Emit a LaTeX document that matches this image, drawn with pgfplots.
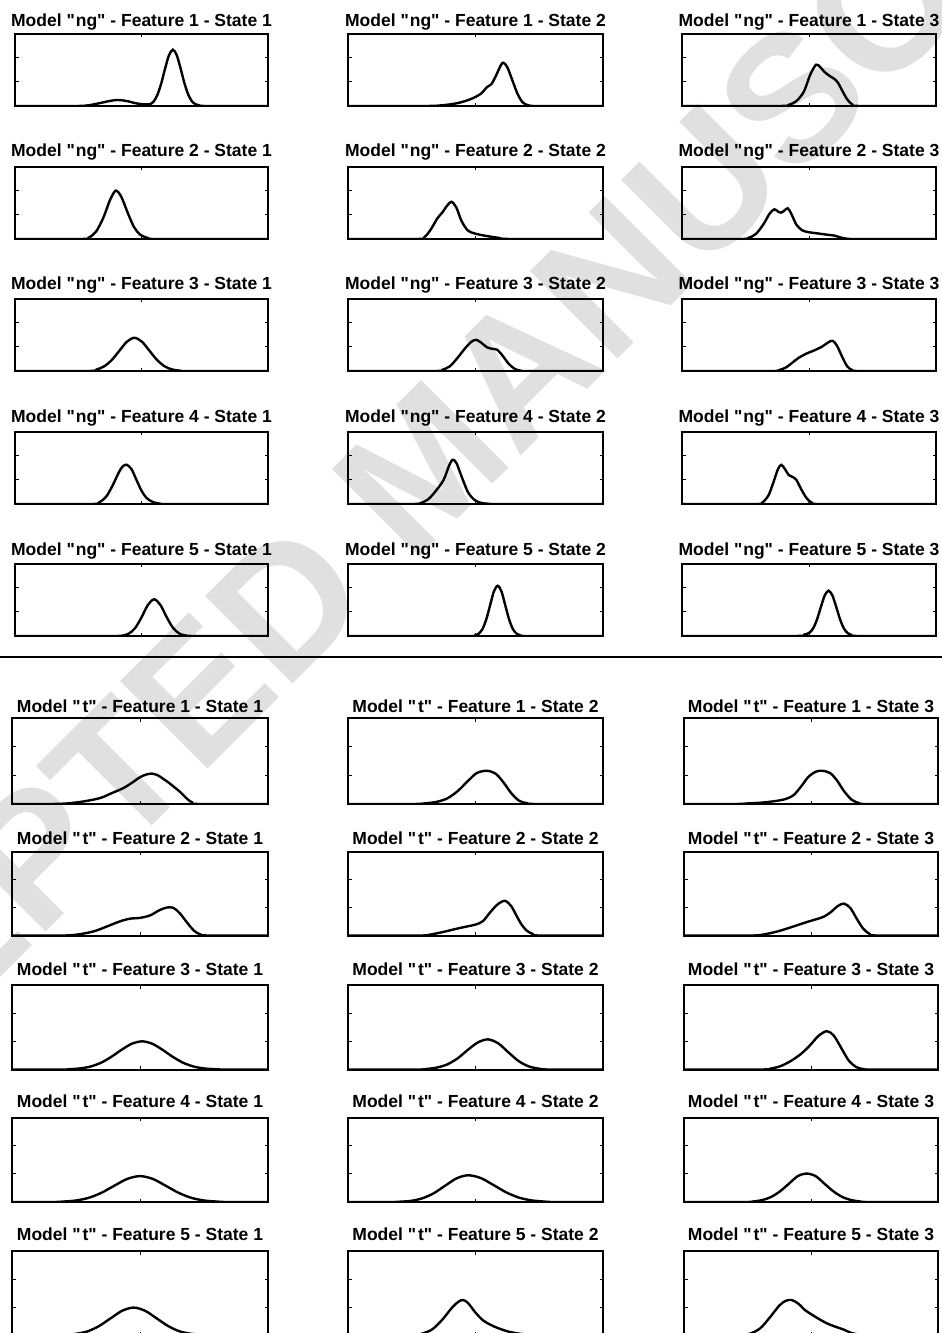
\documentclass[border=0pt]{standalone}
\usepackage{fontspec}
\setmainfont{Liberation Sans}[Ligatures=TeXOff]
\usepackage{pgfplots}
\pgfplotsset{compat=1.18}
\pgfplotsset{panel/.style={
  scale only axis, anchor=north west,
  xmin=0, xmax=10, ymin=0, ymax=3,
  xtick={5}, ytick={1,2},
  xticklabels={}, yticklabels={},
  tick align=inside, major tick length=3.5pt,
  tick style={line width=0.8pt, black},
  axis line style={line width=2pt},
}}
\newcommand{\q}{\symbol{"22}}
\newcommand{\panel}[7]{%
  \begin{axis}[panel, at={(#1pt,-#2pt)}, width=#3pt, height=#4pt]
    \addplot[black, line width=2.4pt, smooth, mark=none] coordinates {#7};
  \end{axis}
  \node[anchor=base, inner sep=0pt, font=\fontsize{17.5}{20}\selectfont\bfseries] at ({#1pt+#3pt/2},-#5pt) {#6};
}
\begin{document}
\begin{tikzpicture}
\path[use as bounding box] (0pt,0pt) rectangle (942pt,-1333pt);
% watermark
\node[rotate=45, anchor=west, inner sep=0pt, text=black!12, font=\fontsize{180}{180}\selectfont\bfseries] at (368pt,-522pt) {MANUSCRIPT};
\node[rotate=45, anchor=east, inner sep=0pt, text=black!12, font=\fontsize{180}{180}\selectfont\bfseries] at (333pt,-557pt) {ACCEPTED};
% separator
\draw[line width=2pt] (0pt,-656.7pt) -- (942pt,-656.7pt);
% ---------------- Model ng ----------------
\panel{15}{33.5}{253}{72.5}{26}{Model \q\kern1pt ng\q{} - Feature 1 - State 1}{(0,0)(2.4,0)(2.9,0.03)(3.4,0.13)(3.75,0.21)(4.07,0.25)(4.4,0.21)(4.75,0.12)(5.05,0.07)(5.34,0.08)(5.49,0.2)(5.64,0.49)(5.79,0.97)(5.94,1.58)(6.09,2.11)(6.24,2.33)(6.39,2.11)(6.54,1.58)(6.69,0.97)(6.84,0.49)(6.99,0.2)(7.14,0.07)(7.3,0.02)(7.6,0)(10,0)}
\panel{348}{33.5}{255}{72.5}{26}{Model \q\kern1pt ng\q{} - Feature 1 - State 2}{(0,0)(3.0,0)(3.7,0.03)(4.3,0.12)(4.8,0.28)(5.2,0.5)(5.45,0.78)(5.62,0.9)(5.8,1.25)(6.0,1.7)(6.1,1.79)(6.25,1.6)(6.45,1.05)(6.65,0.5)(6.85,0.15)(7.1,0.02)(7.5,0)(10,0)}
\panel{682}{33.5}{254}{72.5}{26}{Model \q\kern1pt ng\q{} - Feature 1 - State 3}{(0,0)(3.8,0)(4.2,0.05)(4.5,0.2)(4.8,0.6)(5.05,1.3)(5.28,1.71)(5.45,1.6)(5.6,1.42)(5.8,1.25)(6.0,1.12)(6.15,0.95)(6.3,0.65)(6.5,0.28)(6.7,0.07)(7.0,0)(10,0)}
\panel{15}{166.5}{253}{72.5}{156}{Model \q\kern1pt ng\q{} - Feature 2 - State 1}{(0,0)(2.6,0)(2.9,0.05)(3.2,0.3)(3.5,0.9)(3.75,1.6)(3.98,2.0)(4.2,1.75)(4.45,1.1)(4.7,0.5)(4.95,0.18)(5.25,0.04)(5.6,0)(10,0)}
\panel{348}{166.5}{255}{72.5}{156}{Model \q\kern1pt ng\q{} - Feature 2 - State 2}{(0,0)(2.7,0)(3.0,0.08)(3.25,0.4)(3.5,0.85)(3.7,1.1)(3.9,1.4)(4.06,1.54)(4.25,1.3)(4.45,0.75)(4.7,0.35)(5.0,0.22)(5.4,0.13)(5.9,0.05)(6.4,0)(10,0)}
\panel{682}{166.5}{254}{72.5}{156}{Model \q\kern1pt ng\q{} - Feature 2 - State 3}{(0,0)(2.3,0)(2.6,0.04)(2.9,0.2)(3.2,0.6)(3.45,1.05)(3.64,1.23)(3.8,1.12)(3.9,1.09)(4.0,1.15)(4.16,1.27)(4.3,1.05)(4.5,0.6)(4.73,0.36)(5.0,0.28)(5.35,0.23)(5.7,0.18)(6.0,0.14)(6.25,0.06)(6.5,0.01)(7,0)(10,0)}
\panel{15}{298.5}{253}{72.5}{289}{Model \q\kern1pt ng\q{} - Feature 3 - State 1}{(0,0)(2.9,0)(3.22,0.06)(3.52,0.19)(3.82,0.45)(4.12,0.83)(4.42,1.21)(4.72,1.375)(5.02,1.21)(5.32,0.83)(5.62,0.45)(5.92,0.19)(6.22,0.06)(6.52,0.015)(6.8,0)(10,0)}
\panel{348}{298.5}{255}{72.5}{289}{Model \q\kern1pt ng\q{} - Feature 3 - State 2}{(0,0)(3.4,0)(3.7,0.05)(4.0,0.2)(4.3,0.55)(4.6,0.95)(4.85,1.22)(5.04,1.29)(5.25,1.15)(5.45,0.98)(5.65,0.92)(5.85,0.88)(6.05,0.65)(6.3,0.3)(6.55,0.08)(6.8,0.01)(7.1,0)(10,0)}
\panel{682}{298.5}{254}{72.5}{289}{Model \q\kern1pt ng\q{} - Feature 3 - State 3}{(0,0)(3.5,0)(3.8,0.03)(4.1,0.15)(4.35,0.35)(4.6,0.55)(4.9,0.72)(5.2,0.85)(5.5,1.0)(5.75,1.18)(5.93,1.25)(6.1,1.05)(6.3,0.6)(6.5,0.2)(6.7,0.04)(7.0,0)(10,0)}
\panel{15}{431.5}{253}{72.5}{422}{Model \q\kern1pt ng\q{} - Feature 4 - State 1}{(0,0)(3.0,0)(3.3,0.05)(3.6,0.3)(3.85,0.75)(4.1,1.3)(4.25,1.55)(4.41,1.625)(4.6,1.45)(4.8,1.0)(5.0,0.55)(5.2,0.25)(5.45,0.08)(5.7,0.02)(6.0,0)(10,0)}
\panel{348}{431.5}{255}{72.5}{422}{Model \q\kern1pt ng\q{} - Feature 4 - State 2}{(0,0)(2.5,0)(2.85,0.04)(3.15,0.2)(3.45,0.55)(3.75,1.0)(3.95,1.55)(4.1,1.83)(4.25,1.7)(4.45,1.15)(4.7,0.5)(4.95,0.18)(5.2,0.05)(5.5,0.01)(5.8,0)(10,0)}
\panel{682}{431.5}{254}{72.5}{422}{Model \q\kern1pt ng\q{} - Feature 4 - State 3}{(0,0)(2.9,0)(3.15,0.05)(3.4,0.35)(3.6,0.9)(3.78,1.45)(3.91,1.62)(4.05,1.45)(4.2,1.2)(4.35,1.12)(4.5,1.0)(4.7,0.6)(4.9,0.25)(5.1,0.06)(5.4,0)(10,0)}
\panel{15}{563.5}{253}{72.5}{555}{Model \q\kern1pt ng\q{} - Feature 5 - State 1}{(0,0)(3.8,0)(4.25,0.02)(4.5,0.10)(4.75,0.33)(5.0,0.77)(5.25,1.28)(5.5,1.52)(5.75,1.28)(6.0,0.77)(6.25,0.33)(6.5,0.10)(6.75,0.02)(7.2,0)(10,0)}
\panel{348}{563.5}{255}{72.5}{555}{Model \q\kern1pt ng\q{} - Feature 5 - State 2}{(0,0)(4.6,0)(4.97,0.02)(5.12,0.09)(5.27,0.28)(5.42,0.68)(5.57,1.26)(5.72,1.84)(5.87,2.08)(6.02,1.84)(6.17,1.26)(6.32,0.68)(6.47,0.28)(6.62,0.09)(6.77,0.02)(7.1,0)(10,0)}
\panel{682}{563.5}{254}{72.5}{555}{Model \q\kern1pt ng\q{} - Feature 5 - State 3}{(0,0)(4.4,0)(4.8,0.05)(5.02,0.14)(5.17,0.33)(5.32,0.70)(5.47,1.21)(5.62,1.68)(5.77,1.875)(5.92,1.68)(6.07,1.21)(6.22,0.70)(6.37,0.32)(6.52,0.12)(6.67,0.04)(7.0,0)(10,0)}
% ---------------- Model t ----------------
\panel{12}{718}{256}{86}{712.5}{Model \q\kern2pt t\q{} - Feature 1 - State 1}{(0,0)(1.5,0)(2.15,0.02)(2.8,0.09)(3.45,0.21)(3.9,0.38)(4.36,0.56)(4.7,0.75)(5.01,0.94)(5.25,1.03)(5.47,1.06)(5.7,1.0)(5.92,0.87)(6.1,0.76)(6.31,0.61)(6.57,0.42)(6.84,0.18)(7.03,0.06)(7.3,0)(10,0)}
\panel{348}{718}{255}{86}{712.5}{Model \q\kern2pt t\q{} - Feature 1 - State 2}{(0,0)(2.5,0)(3.0,0.02)(3.5,0.08)(3.9,0.2)(4.3,0.45)(4.7,0.8)(5.05,1.08)(5.45,1.16)(5.8,1.05)(6.1,0.75)(6.4,0.38)(6.7,0.12)(7.0,0.03)(7.4,0)(10,0)}
\panel{684}{718}{254}{86}{712.5}{Model \q\kern2pt t\q{} - Feature 1 - State 3}{(0,0)(2.0,0)(2.5,0.02)(3.2,0.06)(3.9,0.15)(4.3,0.3)(4.6,0.6)(4.9,0.95)(5.2,1.13)(5.45,1.16)(5.75,1.08)(6.0,0.85)(6.3,0.45)(6.6,0.15)(6.9,0.03)(7.2,0)(10,0)}
\panel{12}{851.5}{256}{84}{844}{Model \q\kern2pt t\q{} - Feature 2 - State 1}{(0,0)(2.0,0)(2.6,0.04)(3.2,0.15)(3.7,0.32)(4.2,0.5)(4.6,0.6)(5.0,0.63)(5.4,0.72)(5.75,0.9)(6.05,1.0)(6.3,0.99)(6.55,0.8)(6.85,0.45)(7.1,0.18)(7.35,0.04)(7.7,0)(10,0)}
\panel{348}{851.5}{255}{84}{844}{Model \q\kern2pt t\q{} - Feature 2 - State 2}{(0,0)(2.8,0)(3.2,0.03)(3.7,0.12)(4.25,0.24)(4.7,0.33)(5.04,0.4)(5.3,0.52)(5.55,0.8)(5.85,1.1)(6.15,1.24)(6.4,1.05)(6.6,0.72)(6.8,0.4)(7.0,0.18)(7.25,0.05)(7.5,0)(10,0)}
\panel{684}{851.5}{254}{84}{844}{Model \q\kern2pt t\q{} - Feature 2 - State 3}{(0,0)(2.6,0)(3.1,0.03)(3.7,0.15)(4.3,0.32)(4.8,0.47)(5.2,0.58)(5.5,0.67)(5.8,0.85)(6.05,1.05)(6.3,1.14)(6.55,0.98)(6.8,0.6)(7.05,0.25)(7.3,0.06)(7.6,0)(10,0)}
\panel{12}{985}{256}{84.5}{975}{Model \q\kern2pt t\q{} - Feature 3 - State 1}{(0,0)(2.0,0)(2.28,0.013)(2.68,0.041)(3.08,0.109)(3.48,0.242)(3.88,0.45)(4.28,0.70)(4.68,0.915)(5.08,1.0)(5.48,0.915)(5.88,0.70)(6.28,0.45)(6.68,0.242)(7.08,0.109)(7.48,0.041)(7.88,0.013)(8.3,0)(10,0)}
\panel{348}{985}{255}{84.5}{975}{Model \q\kern2pt t\q{} - Feature 3 - State 2}{(0,0)(2.7,0)(3.09,0.02)(3.49,0.07)(3.89,0.18)(4.29,0.39)(4.69,0.69)(5.09,0.96)(5.49,1.07)(5.89,0.93)(6.29,0.61)(6.69,0.30)(7.09,0.11)(7.49,0.03)(7.9,0)(10,0)}
\panel{684}{985}{254}{84.5}{975}{Model \q\kern2pt t\q{} - Feature 3 - State 3}{(0,0)(3.0,0)(3.4,0.03)(3.8,0.12)(4.2,0.3)(4.6,0.55)(4.95,0.85)(5.3,1.2)(5.63,1.36)(5.9,1.2)(6.2,0.75)(6.5,0.3)(6.8,0.08)(7.1,0.01)(7.5,0)(10,0)}
\panel{12}{1117.5}{256}{84.5}{1107}{Model \q\kern2pt t\q{} - Feature 4 - State 1}{(0,0)(1.6,0)(2.0,0.016)(2.5,0.054)(3.0,0.15)(3.5,0.33)(4.0,0.58)(4.5,0.82)(5.0,0.92)(5.5,0.82)(6.0,0.58)(6.5,0.33)(7.0,0.15)(7.5,0.054)(8.0,0.016)(8.4,0)(10,0)}
\panel{348}{1117.5}{255}{84.5}{1107}{Model \q\kern2pt t\q{} - Feature 4 - State 2}{(0,0)(1.7,0)(2.01,0.01)(2.46,0.04)(2.91,0.13)(3.36,0.31)(3.81,0.58)(4.26,0.84)(4.71,0.95)(5.21,0.85)(5.71,0.60)(6.21,0.34)(6.71,0.155)(7.21,0.056)(7.71,0.016)(8.1,0)(10,0)}
\panel{684}{1117.5}{254}{84.5}{1107}{Model \q\kern2pt t\q{} - Feature 4 - State 3}{(0,0)(2.4,0)(2.73,0.02)(3.08,0.07)(3.43,0.18)(3.78,0.38)(4.13,0.65)(4.48,0.92)(4.83,1.01)(5.18,0.92)(5.53,0.65)(5.88,0.38)(6.23,0.18)(6.58,0.07)(6.93,0.02)(7.3,0)(10,0)}
\panel{12}{1251}{256}{84}{1240}{Model \q\kern2pt t\q{} - Feature 5 - State 1}{(0,0)(1.7,0)(2.05,0.011)(2.5,0.043)(2.95,0.13)(3.4,0.32)(3.85,0.595)(4.3,0.865)(4.75,0.98)(5.2,0.865)(5.65,0.595)(6.1,0.32)(6.55,0.13)(7.0,0.043)(7.45,0.011)(7.8,0)(10,0)}
\panel{348}{1251}{255}{84}{1240}{Model \q\kern2pt t\q{} - Feature 5 - State 2}{(0,0)(2.5,0)(2.9,0.05)(3.3,0.2)(3.7,0.55)(4.1,1.0)(4.35,1.2)(4.51,1.25)(4.7,1.15)(5.0,0.8)(5.3,0.52)(5.6,0.36)(5.9,0.24)(6.3,0.12)(6.7,0.05)(7.1,0.01)(7.5,0)(10,0)}
\panel{684}{1251}{254}{84}{1240}{Model \q\kern2pt t\q{} - Feature 5 - State 3}{(0,0)(2.2,0)(2.6,0.05)(3.0,0.24)(3.39,0.64)(3.75,1.05)(4.0,1.22)(4.24,1.25)(4.5,1.12)(4.75,0.9)(4.96,0.77)(5.3,0.58)(5.62,0.42)(5.95,0.3)(6.27,0.2)(6.6,0.07)(6.9,0.02)(7.3,0)(10,0)}
\end{tikzpicture}
\end{document}
